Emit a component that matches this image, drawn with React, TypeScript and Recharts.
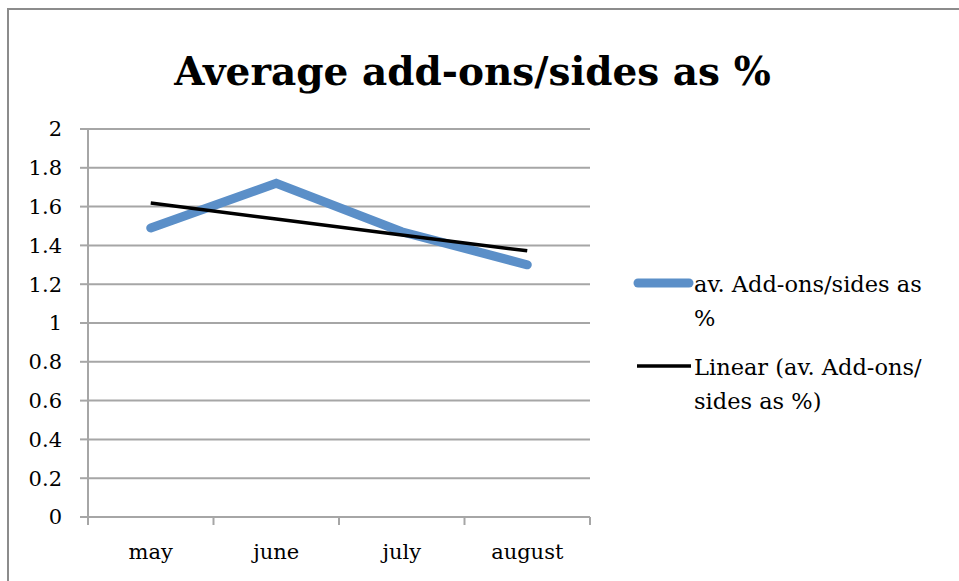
import React from "react";
import { LineChart, Line, XAxis, YAxis, CartesianGrid } from "recharts";

// Monthly averages of add-ons/sides as a percentage
const months = ["may", "june", "july", "august"];
const avgAddOns = [1.49, 1.72, 1.47, 1.3];
// Linear trendline values at each month
const linearTrend = [1.618, 1.536, 1.454, 1.372];
const yTicks = [0, 0.2, 0.4, 0.6, 0.8, 1, 1.2, 1.4, 1.6, 1.8, 2];
// Category boundaries (tick marks) and category centres (labels)
const xTicks = [-0.5, 0, 0.5, 1, 1.5, 2, 2.5, 3, 3.5];

const seriesName = "av. Add-ons/sides as %";
const trendName = "Linear (av. Add-ons/ sides as %)";

const data = months.map((m, i) => ({
  idx: i,
  month: m,
  value: avgAddOns[i],
  trend: linearTrend[i],
}));

const FONT = "'DejaVu Serif', serif";
const GRID = "#a6a6a6";
const BLUE = "#5b8fc8";
const TICK_FONT = 21;

const XTick = (props: any) => {
  const { x, y, payload } = props;
  const v = payload.value as number;
  if (Number.isInteger(v)) {
    return (
      <text
        x={x}
        y={y + 42}
        textAnchor="middle"
        fontFamily={FONT}
        fontSize={TICK_FONT}
        fill="#000"
      >
        {months[v]}
      </text>
    );
  }
  return <line x1={x} x2={x} y1={y} y2={y + 8} stroke={GRID} strokeWidth={2} />;
};

const LegendBlock = () => (
  <div
    style={{
      position: "absolute",
      left: 630,
      top: 267,
      fontFamily: FONT,
      fontSize: 22.5,
      color: "#000",
      lineHeight: "34px",
    }}
  >
    <div style={{ display: "flex", alignItems: "flex-start" }}>
      <svg width={64} height={34} style={{ flex: "none" }}>
        <line x1={8} x2={59} y1={16} y2={16} stroke={BLUE} strokeWidth={9} strokeLinecap="round" />
      </svg>
      <div style={{ width: 270 }}>
        av. Add-ons/sides as
        <br />%
      </div>
    </div>
    <div style={{ display: "flex", alignItems: "flex-start", marginTop: 15 }}>
      <svg width={64} height={34} style={{ flex: "none" }}>
        <line x1={7} x2={61} y1={16} y2={16} stroke="#000" strokeWidth={3.5} />
      </svg>
      <div style={{ width: 270 }}>
        Linear (av. Add-ons/
        <br />
        sides as %)
      </div>
    </div>
  </div>
);

export default function App() {
  return (
    <div
      style={{
        position: "absolute",
        left: 0,
        top: 0,
        width: 959,
        height: 581,
        background: "#fff",
        overflow: "hidden",
      }}
    >
      <div
        style={{
          position: "absolute",
          left: 7,
          top: 8,
          width: 1000,
          height: 700,
          border: "2px solid #8c8c8c",
          boxSizing: "border-box",
        }}
      />
      <div
        style={{
          position: "absolute",
          left: 0,
          top: 46,
          width: 945,
          textAlign: "center",
          fontFamily: FONT,
          fontWeight: "bold",
          fontSize: 39,
          color: "#000",
          lineHeight: "50px",
        }}
      >
        Average add-ons/sides as %
      </div>
      <div style={{ position: "absolute", left: 0, top: 0 }}>
        <LineChart
          width={959}
          height={581}
          data={data}
          margin={{ top: 129, right: 369, bottom: 24, left: 8 }}
        >
          <CartesianGrid vertical={false} stroke={GRID} strokeWidth={2} />
          <XAxis
            dataKey="idx"
            type="number"
            domain={[-0.5, 3.5]}
            ticks={xTicks}
            interval={0}
            tickLine={false}
            tickSize={0}
            tickMargin={0}
            height={40}
            axisLine={{ stroke: GRID, strokeWidth: 2 }}
            tick={<XTick />}
          />
          <YAxis
            type="number"
            domain={[0, 2]}
            ticks={yTicks}
            interval={0}
            width={80}
            tickSize={8}
            tickMargin={18}
            tickLine={{ stroke: GRID, strokeWidth: 2 }}
            axisLine={{ stroke: GRID, strokeWidth: 2 }}
            tick={{ fontFamily: FONT, fontSize: TICK_FONT, fill: "#000" }}
          />
          <Line
            dataKey="value"
            name={seriesName}
            stroke={BLUE}
            strokeWidth={9}
            strokeLinecap="round"
            strokeLinejoin="miter"
            dot={false}
            activeDot={false}
            isAnimationActive={false}
          />
          <Line
            dataKey="trend"
            name={trendName}
            stroke="#000"
            strokeWidth={3.5}
            dot={false}
            activeDot={false}
            isAnimationActive={false}
          />
        </LineChart>
      </div>
      <LegendBlock />
    </div>
  );
}
